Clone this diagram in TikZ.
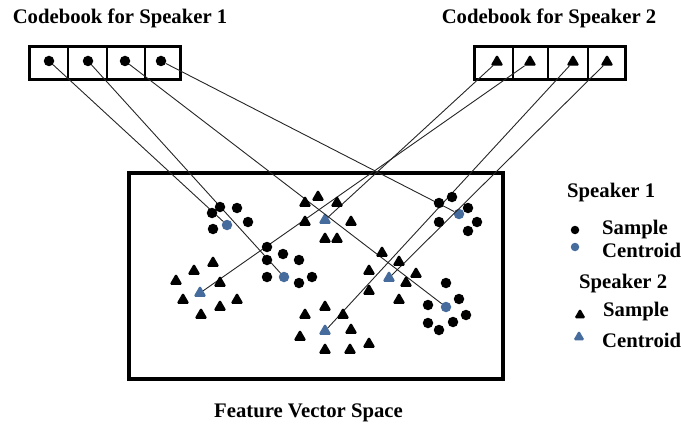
\documentclass[tikz,border=0pt]{standalone}
\usepackage{fontspec}
\setmainfont{Liberation Serif}
\usetikzlibrary{shapes.geometric}
\definecolor{cblue}{RGB}{70,108,158}
\tikzset{
  sa/.style={circle, fill=black, inner sep=0pt, minimum size=10.5pt},
  sac/.style={sa, fill=cblue},
  sb/.style={regular polygon, regular polygon sides=3, fill=black, draw=black, line width=1pt, rounded corners=1pt, inner sep=0pt, minimum size=13pt},
  sbc/.style={sb, fill=cblue, draw=cblue},
  lsa/.style={circle, fill=black, inner sep=0pt, minimum size=8.5pt},
  lsac/.style={lsa, fill=cblue},
  lsb/.style={regular polygon, regular polygon sides=3, fill=black, draw=black, line width=1pt, rounded corners=1pt, inner sep=0pt, minimum size=11pt},
  lsbc/.style={lsb, fill=cblue, draw=cblue},
  lbl/.style={font=\fontsize{20.7}{24}\selectfont\bfseries, inner sep=0pt},
  link/.style={line width=0.9pt, draw=black!85},
  frame/.style={line width=3.5pt},
  divider/.style={line width=1.3pt}
}
\begin{document}
\begin{tikzpicture}[x=1pt,y=-1pt]
\useasboundingbox (0,0) rectangle (681,428);

% titles
\node[lbl] (t1) at (120,18) {Codebook for Speaker 1};
\node[lbl] (t2) at (549,18) {Codebook for Speaker 2};
\node[lbl] (t3) at (308.5,413) {Feature Vector Space};

% codebook frames
\draw[frame] (29.5,46.5) rectangle (180.5,79.5);
\draw[divider] (68,46.5) -- (68,79.5) (107,46.5) -- (107,79.5) (145,46.5) -- (145,79.5);
\draw[frame] (474.5,46.5) rectangle (625.5,79.5);
\draw[divider] (513,46.5) -- (513,79.5) (548,46.5) -- (548,79.5) (588,46.5) -- (588,79.5);

% feature space frame
\draw[frame] (129,173) rectangle (503,379);

% codebook entries
\node[sa] (a1) at (49,61) {};
\node[sa] (a2) at (88,61) {};
\node[sa] (a3) at (125,61) {};
\node[sa] (a4) at (161,61) {};
\node[sb] (b1) at (497,62) {};
\node[sb] (b2) at (530,62) {};
\node[sb] (b3) at (573,62) {};
\node[sb] (b4) at (607,62) {};

% centroids
\node[sac] (cA) at (227,225) {};
\node[sac] (cB) at (284,277) {};
\node[sac] (cC) at (459,214) {};
\node[sac] (cD) at (446,307) {};
\node[sbc] (cE) at (325,220) {};
\node[sbc] (cF) at (200,293) {};
\node[sbc] (cG) at (389,278) {};
\node[sbc] (cH) at (325,331) {};

% connectors
\draw[link] (a1) -- (cA);
\draw[link] (a2) -- (cB);
\draw[link] (a3) -- (cD);
\draw[link] (a4) -- (cC);
\draw[link] (b1) -- (cE);
\draw[link] (b2) -- (cF);
\draw[link] (b3) -- (cH);
\draw[link] (b4) -- (cG);

% speaker 1 samples
\foreach \p [count=\i] in {(220,207),(212,213),(237,208),(248,222),(213,229)}
  \node[sa] (sA\i) at \p {};
\foreach \p [count=\i] in {(267,247),(283,254),(299,260),(267,260),(267,277),(299,283),(312,277)}
  \node[sa] (sB\i) at \p {};
\foreach \p [count=\i] in {(439,203),(452,197),(468,208),(477,222),(468,231),(439,222)}
  \node[sa] (sC\i) at \p {};
\foreach \p [count=\i] in {(446,283),(459,299),(428,305),(466,315),(428,323),(439,330),(453,322)}
  \node[sa] (sD\i) at \p {};

% speaker 2 samples
\foreach \p [count=\i] in {(318,197),(305,203),(337,203),(305,222),(351,222),(325,239),(337,239)}
  \node[sb] (sE\i) at \p {};
\foreach \p [count=\i] in {(213,263),(194,271),(176,281),(220,283),(183,300),(237,300),(220,307),(201,315)}
  \node[sb] (sF\i) at \p {};
\foreach \p [count=\i] in {(382,253),(399,262),(369,271),(416,274),(406,283),(369,291),(399,300)}
  \node[sb] (sG\i) at \p {};
\foreach \p [count=\i] in {(325,307),(305,315),(343,315),(351,330),(300,337),(325,350),(350,350),(369,344)}
  \node[sb] (sH\i) at \p {};

% legend
\node[lbl, anchor=west] (l1) at (567,193) {Speaker 1};
\node[lsa] (m1) at (575,230) {};
\node[lbl, anchor=west] (l2) at (602,230) {Sample};
\node[lsac] (m2) at (575,247) {};
\node[lbl, anchor=west] (l3) at (602,250) {Centroid};
\node[lbl, anchor=west] (l4) at (579,284) {Speaker 2};
\node[lsb] (m3) at (580,315) {};
\node[lbl, anchor=west] (l5) at (603,312) {Sample};
\node[lsbc] (m4) at (579,337) {};
\node[lbl, anchor=west] (l6) at (602,340) {Centroid};
\end{tikzpicture}
\end{document}
